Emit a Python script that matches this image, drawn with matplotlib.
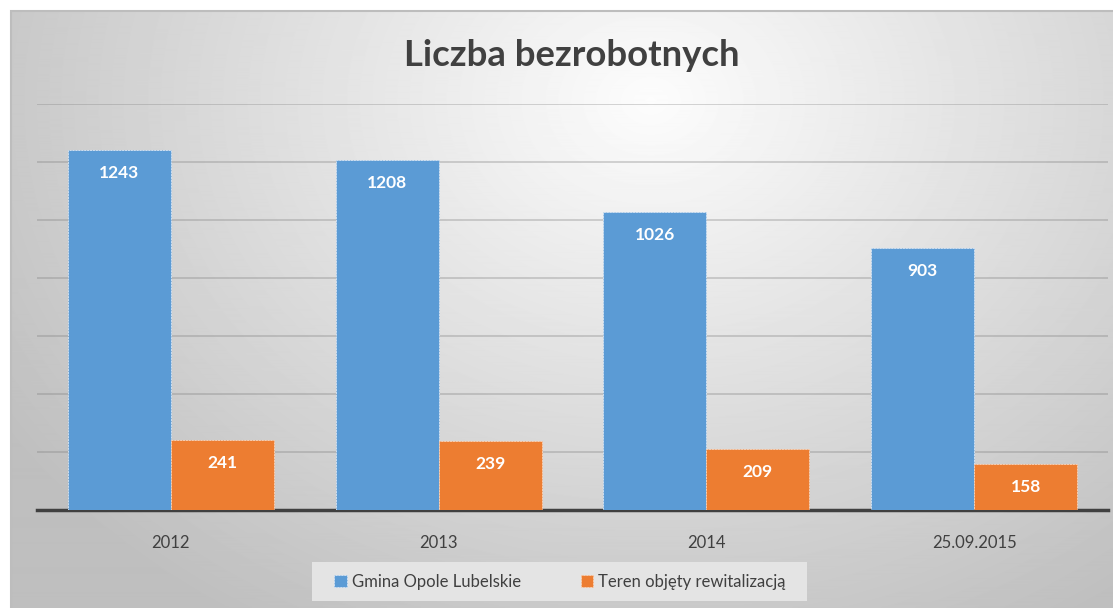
import numpy as np
import matplotlib.pyplot as plt
from matplotlib.patches import Rectangle

# liczba bezrobotnych w kolejnych latach
okresy = ['2012', '2013', '2014', '25.09.2015']
gmina = [1243, 1208, 1026, 903]
teren = [241, 239, 209, 158]

kolor_gmina = '#5b9bd5'
kolor_teren = '#ed7d31'
tekst = '#404040'

plt.rcParams['font.family'] = ['Lato', 'DejaVu Sans']

W, H = 1113, 608
fig = plt.figure(figsize=(W / 100, H / 100), dpi=100)

# tło wykresu - gradient promienisty
bg = fig.add_axes([11 / W, 0, 1 - 11 / W, 1 - 11 / H], zorder=0)
yy, xx = np.mgrid[0:600, 0:1102]
r = np.sqrt(((xx - 640) / 700.0) ** 2 + ((yy - 90) / 560.0) ** 2)
shade = 0.99 - 0.22 * np.clip(r, 0, 1.1)
bg.imshow(shade, cmap='gray', vmin=0, vmax=1, aspect='auto',
          extent=[0, 1, 0, 1], interpolation='bilinear')
bg.set_xlim(0, 1)
bg.set_ylim(0, 1)
bg.axis('off')
fig.patches.append(Rectangle((11 / W, -0.01), 1.01, 1 - 11 / H + 0.01,
                             transform=fig.transFigure, fill=False,
                             edgecolor='#bdbdbd', lw=1.5, zorder=1))
# tło legendy
fig.patches.append(Rectangle((312 / W, 1 - 601 / H), (807 - 312) / W, 39 / H,
                             transform=fig.transFigure, facecolor='#e4e4e4',
                             edgecolor='none', zorder=1))

ax = fig.add_axes([37 / W, 1 - 510 / H, (1108 - 37) / W, (510 - 104) / H], zorder=2)
ax.patch.set_alpha(0)

x = np.arange(len(okresy))
w = 0.385
b1 = ax.bar(x - w / 2, gmina, w, color=kolor_gmina, edgecolor='#cfe0f2',
            linewidth=0.7, linestyle=(0, (2, 1)), zorder=3)
b2 = ax.bar(x + w / 2, teren, w, color=kolor_teren, edgecolor='#f7cfb3',
            linewidth=0.7, linestyle=(0, (2, 1)), zorder=3)

# etykiety wartości wewnątrz słupków, przy górnej krawędzi
for bars, vals in ((b1, gmina), (b2, teren)):
    for b, v in zip(bars, vals):
        ax.annotate(str(v), (b.get_x() + b.get_width() / 2, v),
                    xytext=(0, -23), textcoords='offset pixels',
                    ha='center', va='center', color='white',
                    fontsize=12.5, fontweight='bold', zorder=4)

ax.set_xlim(-0.5, len(okresy) - 0.5)
ax.set_ylim(0, 1400)
ax.set_yticks(np.arange(200, 1401, 200))
ax.yaxis.grid(True, color='#7f7f7f', alpha=0.35, lw=1.3)
ax.set_axisbelow(True)
ax.tick_params(axis='y', left=False, labelleft=False)
ax.tick_params(axis='x', length=0, pad=18, labelsize=12, labelcolor=tekst)
ax.set_xticks(x)
ax.set_xticklabels(okresy)
for s in ('top', 'right', 'left'):
    ax.spines[s].set_visible(False)
ax.spines['bottom'].set_color('#404040')
ax.spines['bottom'].set_linewidth(2.5)

fig.text(572 / W, 1 - 55 / H, 'Liczba bezrobotnych', ha='center', va='center',
         fontsize=26.3, fontweight='bold', color=tekst)

leg = fig.legend([b1, b2], ['Gmina Opole Lubelskie', 'Teren objęty rewitalizacją'],
                 loc='center', bbox_to_anchor=(560 / W, 1 - 581.5 / H), ncol=2,
                 frameon=False, fontsize=12, handlelength=0.75,
                 handleheight=0.75, handletextpad=0.3, columnspacing=3.6,
                 borderaxespad=0)
for t in leg.get_texts():
    t.set_color(tekst)

fig.savefig('out.png', dpi=100)
